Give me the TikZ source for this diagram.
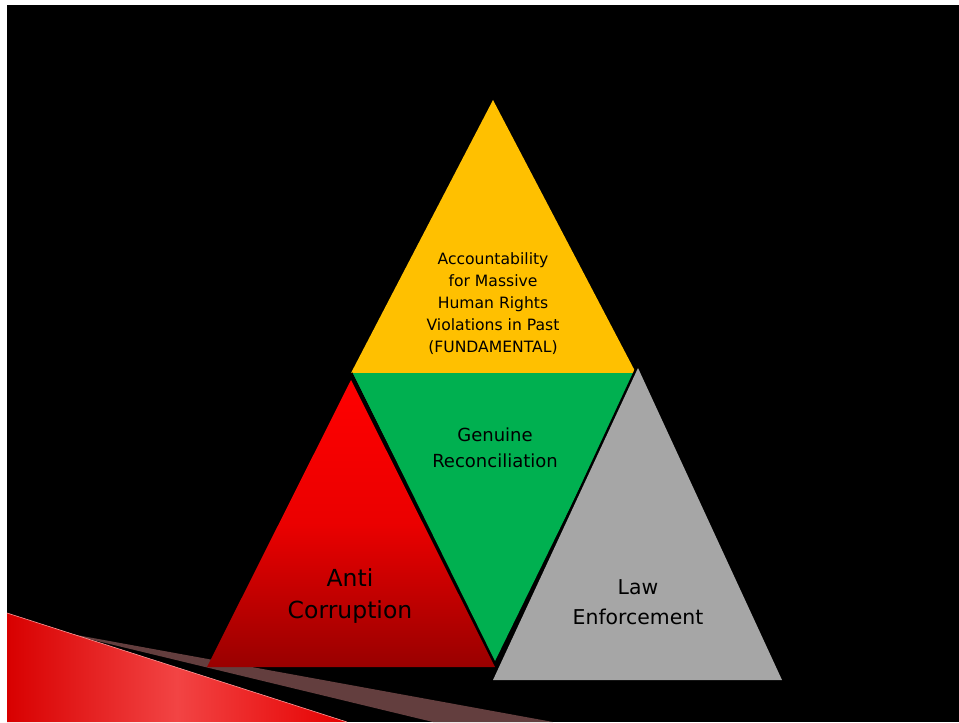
\documentclass[tikz,border=0pt]{standalone}
\usepackage{fontspec}
\setmainfont{DejaVu Sans}
\definecolor{pyramidgold}{HTML}{FFC000}
\definecolor{pyramidgreen}{HTML}{00B050}
\definecolor{pyramidgrey}{HTML}{A6A6A6}
\definecolor{bandbrown}{HTML}{633E3E}
\definecolor{swoopred}{HTML}{D80000}
\definecolor{swooplight}{HTML}{F24444}
\begin{document}
\begin{tikzpicture}[
  x=1pt, y=-1pt,
  label/.style={align=center, text=black, inner sep=0pt},
  edge/.style={black, line width=3pt, line join=miter}
]
% page and background
\fill[white] (0,0) rectangle (959,722);
\fill[black] (7,5) rectangle (959,722);

% decoration at bottom left
\fill[bandbrown] (60,632) -- (553,722) -- (433,722) -- cycle;
\shade[left color=swoopred, right color=red!90!black, middle color=swooplight]
  (7,613) -- (347,722) -- (7,722) -- cycle;
\draw[red!40!white, line width=0.6pt] (7,613) -- (347,722);

% corner points of the triangles
\coordinate (topA) at (493,100);
\coordinate (topL) at (351,373);
\coordinate (topR) at (636,373);
\coordinate (midB) at (495,661);
\coordinate (redA) at (351,380);
\coordinate (redL) at (207,667);
\coordinate (redR) at (495,667);
\coordinate (greyA) at (638,368);
\coordinate (greyL) at (493,680);
\coordinate (greyR) at (782,680);

% pyramid
\fill[pyramidgold] (topA) -- (topR) -- (topL) -- cycle;
\shade[top color=red, bottom color=red!60!black, middle color=red!92!black]
  (redA) -- (redR) -- (redL) -- cycle;
\fill[pyramidgreen] (topL) -- (topR) -- (midB) -- cycle;
\draw[edge] (topL) -- (midB) -- (topR);
\fill[pyramidgreen] (topL) ++(2,0) -- (topR) -- (midB) -- cycle;
\draw[edge, line width=5pt] (greyA) -- (greyL);
\fill[pyramidgrey] (greyA) -- (greyR) -- (greyL) -- cycle;

% texts
\node[label, font=\fontsize{15.6}{22}\selectfont] (accountability) at (493,304)
  {Accountability\\for Massive\\Human Rights\\Violations in Past\\(FUNDAMENTAL)};
\node[label, font=\fontsize{18}{26}\selectfont] (reconciliation) at (495,448)
  {Genuine\\Reconciliation};
\node[label, font=\fontsize{23.5}{32}\selectfont] (corruption) at (350,596)
  {Anti\\Corruption};
\node[label, font=\fontsize{20.4}{30}\selectfont] (enforcement) at (638,602)
  {Law\\Enforcement};
\end{tikzpicture}
\end{document}
